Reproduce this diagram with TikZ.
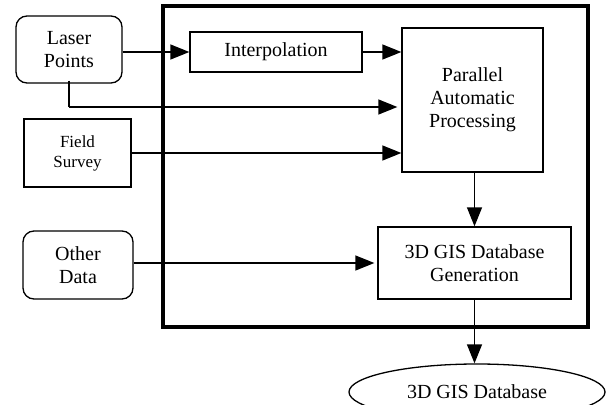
\documentclass[tikz,border=0pt]{standalone}
\usepackage{fontspec}
\setmainfont{Liberation Serif}
\usetikzlibrary{arrows.meta,shapes.geometric}
\begin{document}
\begin{tikzpicture}[x=1pt,y=-1pt,
  box/.style={draw,line width=1.3pt,inner sep=0pt,align=center,
    font=\fontsize{20}{23}\selectfont},
  rbox/.style={box,rounded corners=11pt},
  arr/.style={line width=1.3pt,-{Triangle[length=19pt,width=15pt]}},
  ln/.style={line width=1.3pt}]
\clip (0,0) rectangle (607,404);
\useasboundingbox (0,0) rectangle (607,404);
\draw[line width=3.5pt] (163,6) rectangle (588,327);
\node[rbox,minimum width=106pt,minimum height=67pt] (laser) at (69,49.5) {Laser\\Points};
\node[box,minimum width=172pt,minimum height=40pt] (interp) at (276,52) {Interpolation};
\node[box,minimum width=141pt,minimum height=144pt] (par) at (472.5,100) {Parallel\\Automatic\\Processing};
\node[box,minimum width=107pt,minimum height=68pt,font=\fontsize{17}{20}\selectfont] (field) at (77.5,153) {Field\\Survey};
\node[rbox,minimum width=110pt,minimum height=68pt] (other) at (78,265) {Other\\Data};
\node[box,minimum width=193pt,minimum height=72pt] (gen) at (474.5,263) {3D GIS Database\\Generation};
\node[box,ellipse,minimum width=256pt,minimum height=56pt] (db) at (477,392) {3D GIS Database};
\coordinate (bend) at (69,107);
\draw[arr] (laser.east |- interp.west) -- (interp.west);
\draw[arr] (interp.east) -- (interp.east -| par.west);
\draw[ln] ([yshift=3pt]laser.south) -- (bend);
\draw[arr] (bend) -- ([xshift=-4pt]bend -| par.west);
\draw[arr] (field.east) -- (field.east -| par.west);
\draw[arr] (gen.north |- par.south) -- (gen.north);
\draw[arr] (other.east |- gen.west) -- ([xshift=-3pt]gen.west);
\draw[arr] (gen.south) -- (gen.south |- db.north);
\end{tikzpicture}
\end{document}
